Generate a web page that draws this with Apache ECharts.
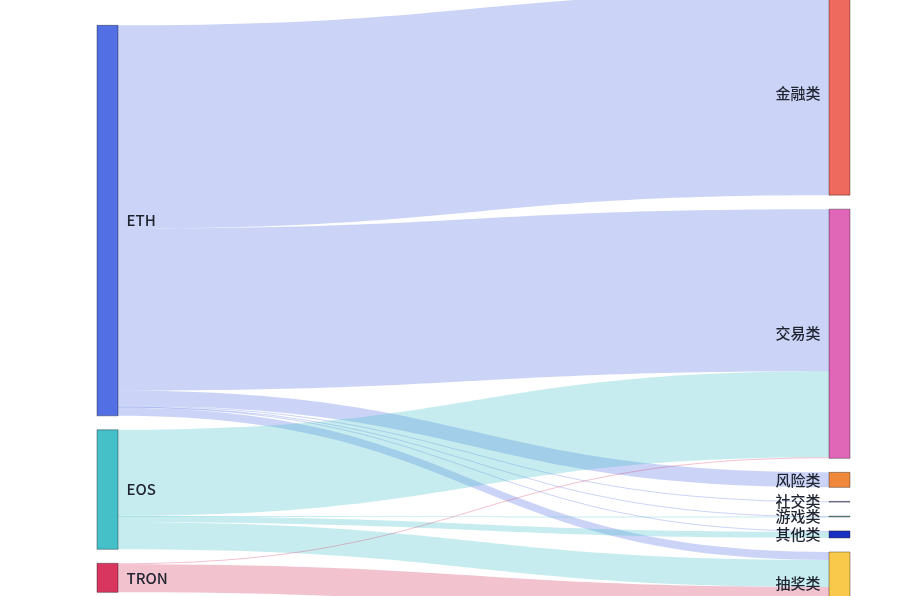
<!DOCTYPE html>
<html>
<head>
<meta charset="utf-8">
<script src="https://cdn.jsdelivr.net/npm/echarts@6/dist/echarts.min.js"></script>
<style>
html,body{margin:0;padding:0;background:#fff;}
#chart{width:910px;height:596px;}
</style>
</head>
<body>
<div id="chart"></div>
<script>
// Nodes (sources then targets)
const sourceNames = ['ETH', 'EOS', 'TRON'];
const targetNames = ['金融类', '交易类', '风险类', '社交类', '游戏类', '其他类', '抽奖类'];
const nodeColors = {
  'ETH': '#5270e4', 'EOS': '#45c0c9', 'TRON': '#d8365f',
  '金融类': '#ee6a5e', '交易类': '#e066b8', '风险类': '#f0883c',
  '社交类': '#8e90d0', '游戏类': '#5aa8aa', '其他类': '#1a30c0', '抽奖类': '#f8c94a'
};
// Links
const linkSource = ['ETH', 'ETH', 'ETH', 'ETH', 'ETH', 'ETH', 'ETH', 'EOS', 'EOS', 'EOS', 'EOS', 'TRON', 'TRON'];
const linkTarget = ['金融类', '交易类', '风险类', '社交类', '游戏类', '其他类', '抽奖类', '交易类', '游戏类', '其他类', '抽奖类', '交易类', '抽奖类'];
const linkValue  = [203, 162, 15, 0.8, 0.4, 1, 8, 86, 0.4, 6, 27, 1, 28];

const nodes = sourceNames.map(n => ({
  name: n,
  itemStyle: { color: nodeColors[n] },
  label: { position: 'right' }
})).concat(targetNames.map(n => ({
  name: n,
  itemStyle: { color: nodeColors[n] },
  label: { position: 'left' }
})));
const links = linkSource.map((s, i) => ({ source: s, target: linkTarget[i], value: linkValue[i] }));

const chart = echarts.init(document.getElementById('chart'));
chart.setOption({
  animation: false,
  series: [{
    type: 'sankey',
    left: 97,
    right: 60,
    top: -8,
    bottom: -19,
    nodeWidth: 21,
    nodeGap: 14,
    draggable: false,
    emphasis: { disabled: true },
    data: nodes,
    links: links,
    itemStyle: { borderWidth: 1, borderColor: 'rgba(0,0,0,0.35)' },
    lineStyle: { color: 'source', opacity: 0.3, curveness: 0.5 },
    label: {
      show: true,
      color: '#1f2430',
      fontSize: 15,
      fontWeight: 500,
      fontFamily: '"Noto Sans CJK SC", "Noto Sans", sans-serif',
      distance: 8
    }
  }]
});
</script>
</body>
</html>
